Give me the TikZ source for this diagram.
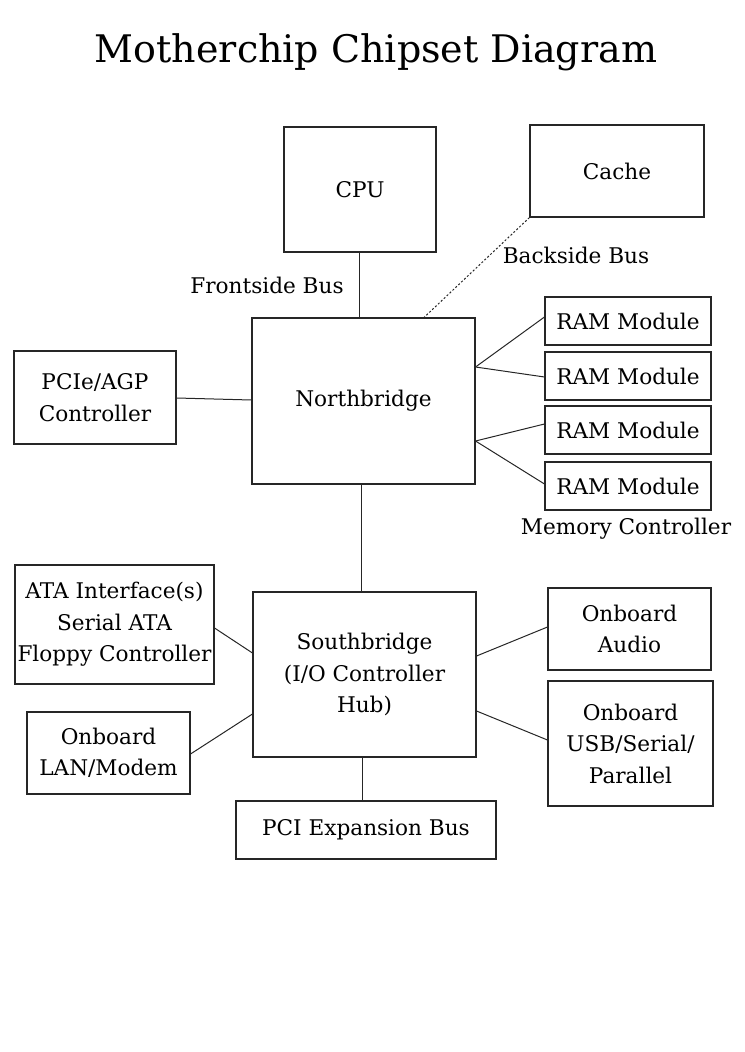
\documentclass[tikz,border=0pt]{standalone}
\usepackage{fontspec}
\setmainfont{DejaVu Serif}
\begin{document}
\begin{tikzpicture}[x=0.75pt,y=-0.75pt,
  box/.style={draw=black!85,line width=0.8pt,inner sep=0pt,align=center,
    font=\fontsize{16.2}{23.6}\selectfont},
  lbl/.style={inner sep=0pt,font=\fontsize{16.2}{23.6}\selectfont},
  conn/.style={draw=black!85,line width=0.75pt},
  dotconn/.style={draw=black!85,line width=0.75pt,dash pattern=on 1.5pt off 1.5pt}]
\useasboundingbox (0,0) rectangle (744,1052);
\node[inner sep=0pt,font=\fontsize{28.5}{36}\selectfont] (title) at (376,52) {Motherchip Chipset Diagram};
\node[box,minimum width=152*0.75pt,minimum height=125*0.75pt] (cpu) at (360,189.5) {CPU};
\node[box,minimum width=174*0.75pt,minimum height=92*0.75pt] (cache) at (617,171) {Cache};
\node[box,minimum width=223*0.75pt,minimum height=166*0.75pt] (nb) at (363.5,401) {Northbridge};
\node[box,minimum width=162*0.75pt,minimum height=93*0.75pt] (pcie) at (95,397.5) {PCIe/AGP\\Controller};
\node[box,minimum width=166*0.75pt,minimum height=48*0.75pt] (ram1) at (628,321) {RAM Module};
\node[box,minimum width=166*0.75pt,minimum height=48*0.75pt] (ram2) at (628,376) {RAM Module};
\node[box,minimum width=166*0.75pt,minimum height=48*0.75pt] (ram3) at (628,430) {RAM Module};
\node[box,minimum width=166*0.75pt,minimum height=48*0.75pt] (ram4) at (628,486) {RAM Module};
\node[box,minimum width=199*0.75pt,minimum height=119*0.75pt] (ata) at (114.5,624.5) {ATA Interface(s)\\Serial ATA\\Floppy Controller};
\node[box,minimum width=223*0.75pt,minimum height=165*0.75pt] (sb) at (364.5,674.5) {Southbridge\\(I/O Controller\\Hub)};
\node[box,minimum width=163*0.75pt,minimum height=82*0.75pt] (audio) at (629.5,629) {Onboard\\Audio};
\node[box,minimum width=165*0.75pt,minimum height=125*0.75pt] (usb) at (630.5,743.5) {Onboard\\USB/Serial/\\Parallel};
\node[box,minimum width=163*0.75pt,minimum height=82*0.75pt] (lan) at (108.5,753) {Onboard\\LAN/Modem};
\node[box,minimum width=260*0.75pt,minimum height=58*0.75pt] (pci) at (366,830) {PCI Expansion Bus};
\node[lbl] (fsb) at (267,285) {Frontside Bus};
\node[lbl] (bsb) at (576,255) {Backside Bus};
\node[lbl] (memc) at (626,529) {Memory Controller};
% connectors
\draw[conn] (359,0 |- cpu.south) -- (359,0 |- nb.north);
\draw[dotconn] (cache.south west) -- (424,0 |- nb.north);
\draw[conn] (pcie.east |- 0,398) -- (nb.west |- 0,400);
\draw[conn] (nb.east |- 0,367) -- (ram1.west |- 0,317);
\draw[conn] (nb.east |- 0,367) -- (ram2.west |- 0,377);
\draw[conn] (nb.east |- 0,441) -- (ram3.west |- 0,424);
\draw[conn] (nb.east |- 0,441) -- (ram4.west |- 0,484);
\draw[conn] (361,0 |- nb.south) -- (361,0 |- sb.north);
\draw[conn] (ata.east |- 0,628) -- (sb.west |- 0,653);
\draw[conn] (lan.east |- 0,754) -- (sb.west |- 0,714);
\draw[conn] (sb.east |- 0,656) -- (audio.west |- 0,627);
\draw[conn] (sb.east |- 0,711) -- (usb.west |- 0,740);
\draw[conn] (362,0 |- sb.south) -- (362,0 |- pci.north);
\end{tikzpicture}
\end{document}
